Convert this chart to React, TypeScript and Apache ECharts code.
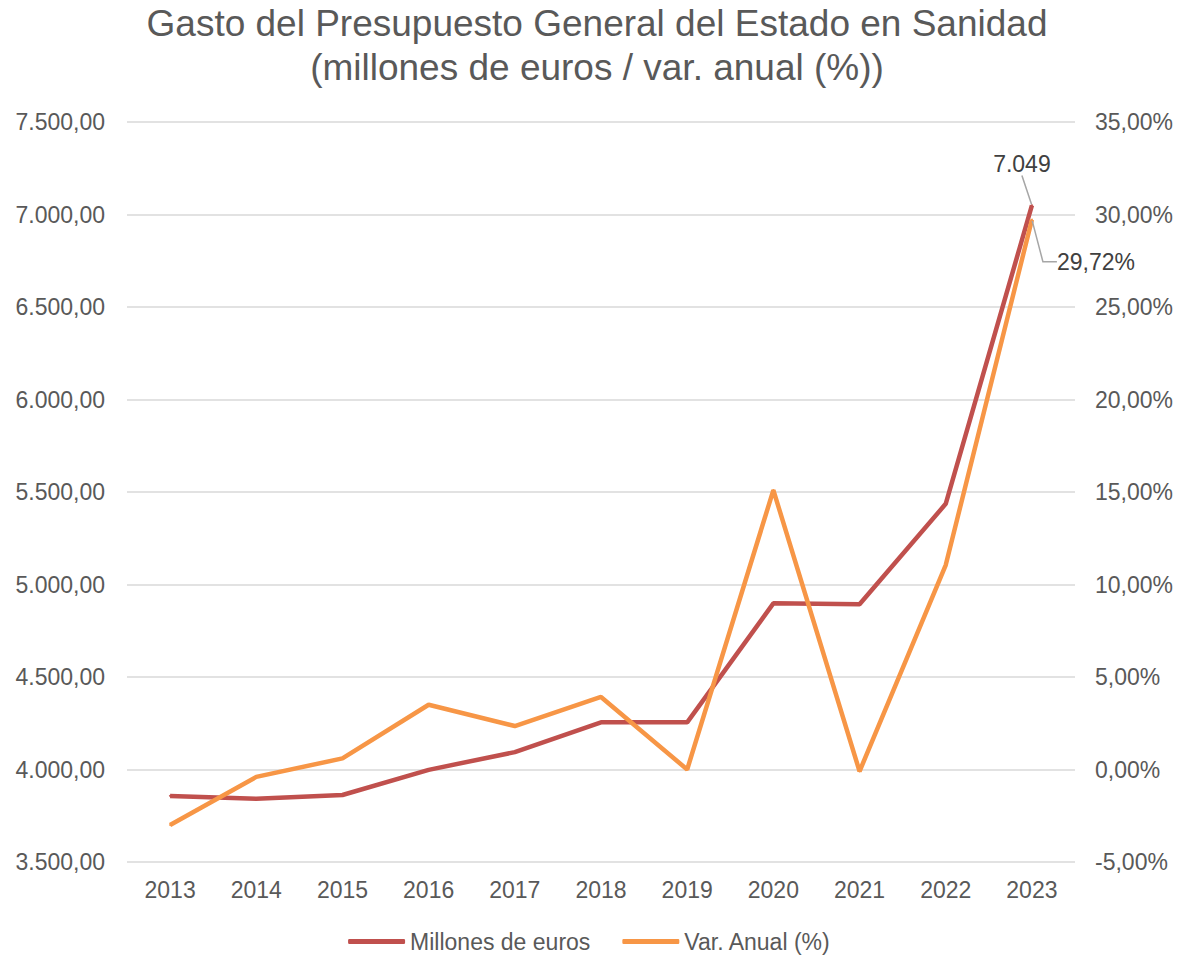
import React, { useEffect, useRef } from "react";
import * as echarts from "echarts";

const years = ["2013", "2014", "2015", "2016", "2017", "2018", "2019", "2020", "2021", "2022", "2023"];
const millones = [3857, 3842, 3862, 3998, 4094, 4255, 4255, 4898, 4893, 5436, 7049];
const varAnual = [-3.0, -0.4, 0.6, 3.5, 2.35, 3.92, 0.0, 15.1, -0.1, 11.05, 29.72];

const TXT = "#595959";
const FONT = "Liberation Sans, Arial, sans-serif";
const FS = 23;

function fmtEs(v: number, dec: number): string {
  const neg = v < 0;
  const s = Math.abs(v).toFixed(dec);
  const [ip, dp] = s.split(".");
  const withDots = ip.replace(/\B(?=(\d{3})+(?!\d))/g, ".");
  return (neg ? "-" : "") + withDots + (dp !== undefined ? "," + dp : "");
}

export default function App() {
  const ref = useRef<HTMLDivElement>(null);
  useEffect(() => {
    document.body.style.margin = "0";
    if (!ref.current) return;
    const chart = echarts.init(ref.current, undefined, { renderer: "svg" });
    const last = years.length - 1;
    chart.setOption({
      animation: false,
      backgroundColor: "#ffffff",
      textStyle: { fontFamily: FONT },
      title: {
        text: "Gasto del Presupuesto General del Estado en Sanidad\n(millones de euros / var. anual (%))",
        left: 597,
        textAlign: "center",
        top: 1,
        padding: 0,
        textStyle: { fontFamily: FONT, fontSize: 37, fontWeight: "normal", color: TXT, lineHeight: 44 },
      },
      legend: {
        top: 925,
        left: "center",
        itemWidth: 57,
        itemHeight: 5,
        itemGap: 32,
        icon: "roundRect",
        textStyle: { fontFamily: FONT, fontSize: FS, color: TXT },
        data: ["Millones de euros", "Var. Anual (%)"],
      },
      grid: { left: 127, right: 104, top: 122, bottom: 93, containLabel: false },
      xAxis: {
        type: "category",
        data: years,
        boundaryGap: true,
        axisLine: { show: false },
        axisTick: { show: false },
        axisLabel: { fontFamily: FONT, fontSize: FS, color: TXT, margin: 16 },
      },
      yAxis: [
        {
          type: "value",
          min: 3500,
          max: 7500,
          interval: 500,
          axisLine: { show: false },
          axisTick: { show: false },
          splitLine: { lineStyle: { color: "#d9d9d9", width: 1.5 } },
          axisLabel: { fontFamily: FONT, fontSize: FS, color: TXT, margin: 22, formatter: (v: number) => fmtEs(v, 2) },
        },
        {
          type: "value",
          min: -5,
          max: 35,
          interval: 5,
          axisLine: { show: false },
          axisTick: { show: false },
          splitLine: { show: false },
          axisLabel: { fontFamily: FONT, fontSize: FS, color: TXT, margin: 20, formatter: (v: number) => fmtEs(v, 2) + "%" },
        },
      ],
      series: [
        {
          name: "Millones de euros",
          type: "line",
          yAxisIndex: 0,
          data: millones.map((v, i) =>
            i === last
              ? { value: v, label: { show: true, position: "top", formatter: (p: any) => fmtEs(p.value, 0) }, labelLine: { show: true } }
              : v
          ),
          symbol: "circle",
          symbolSize: 2,
          showSymbol: true,
          lineStyle: { color: "#C0504D", width: 4.5 },
          itemStyle: { color: "#C0504D" },
          label: { show: false, fontFamily: FONT, fontSize: FS, color: "#404040" },
          labelLine: { show: false, lineStyle: { color: "#a6a6a6", width: 1.5 } },
          labelLayout: (p: any) => (p.dataIndex === last ? { dx: -10, dy: -24 } : {}),
          z: 2,
        },
        {
          name: "Var. Anual (%)",
          type: "line",
          yAxisIndex: 1,
          data: varAnual.map((v, i) =>
            i === last
              ? { value: v, label: { show: true, position: "right", formatter: (p: any) => fmtEs(p.value, 2) + "%" }, labelLine: { show: true, length2: 14 } }
              : v
          ),
          symbol: "circle",
          symbolSize: 2,
          showSymbol: true,
          lineStyle: { color: "#F79646", width: 4.5 },
          itemStyle: { color: "#F79646" },
          label: { show: false, fontFamily: FONT, fontSize: FS, color: "#404040" },
          labelLine: { show: false, lineStyle: { color: "#a6a6a6", width: 1.5 } },
          labelLayout: (p: any) => (p.dataIndex === last ? { dx: 19, dy: 42 } : {}),
          z: 3,
        },
      ],
    });
    return () => chart.dispose();
  }, []);
  return <div ref={ref} style={{ width: 1179, height: 955 }} />;
}
